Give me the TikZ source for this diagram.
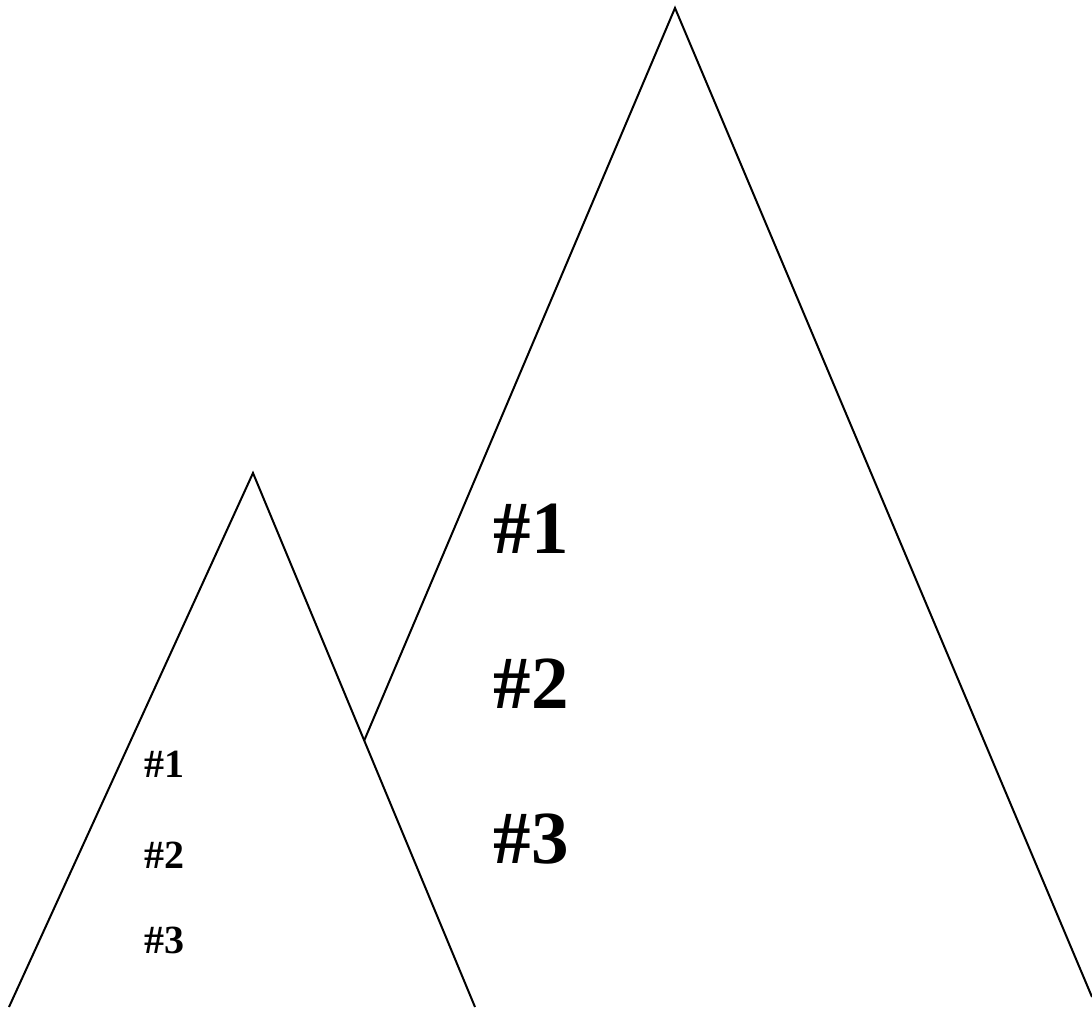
\documentclass[tikz,border=0pt]{standalone}
\usepackage{fontspec}
\setmainfont{Liberation Serif}
\usetikzlibrary{positioning}

\tikzset{
  peak/.style={line width=2pt},
  bigtag/.style={font=\bfseries\fontsize{75}{75}\selectfont,inner sep=0pt},
  smalltag/.style={font=\bfseries\fontsize{40}{40}\selectfont,inner sep=0pt}
}

\begin{document}
\begin{tikzpicture}[x=1pt,y=-1pt]
  \useasboundingbox (0,0) rectangle (1092,1009);
  % small peak
  \coordinate (sl) at (9,1007);
  \coordinate (st) at (253,473);
  \coordinate (sr) at (475,1007);
  \draw[peak] (sl)--(st)--(sr);
  % big peak, resting on the small one
  \coordinate (bj) at (364,741);
  \coordinate (bt) at (675,8);
  \coordinate (br) at (1092,997);
  \draw[peak] (bj)--(bt)--(br);
  % labels
  \node[smalltag] (s1) at (164,764) {\#1};
  \node[smalltag] (s2) at (164,855) {\#2};
  \node[smalltag] (s3) at (164,940) {\#3};
  \node[bigtag] (b1) at (531,529) {\#1};
  \node[bigtag] (b2) at (531,684) {\#2};
  \node[bigtag] (b3) at (531,839) {\#3};
\end{tikzpicture}
\end{document}
